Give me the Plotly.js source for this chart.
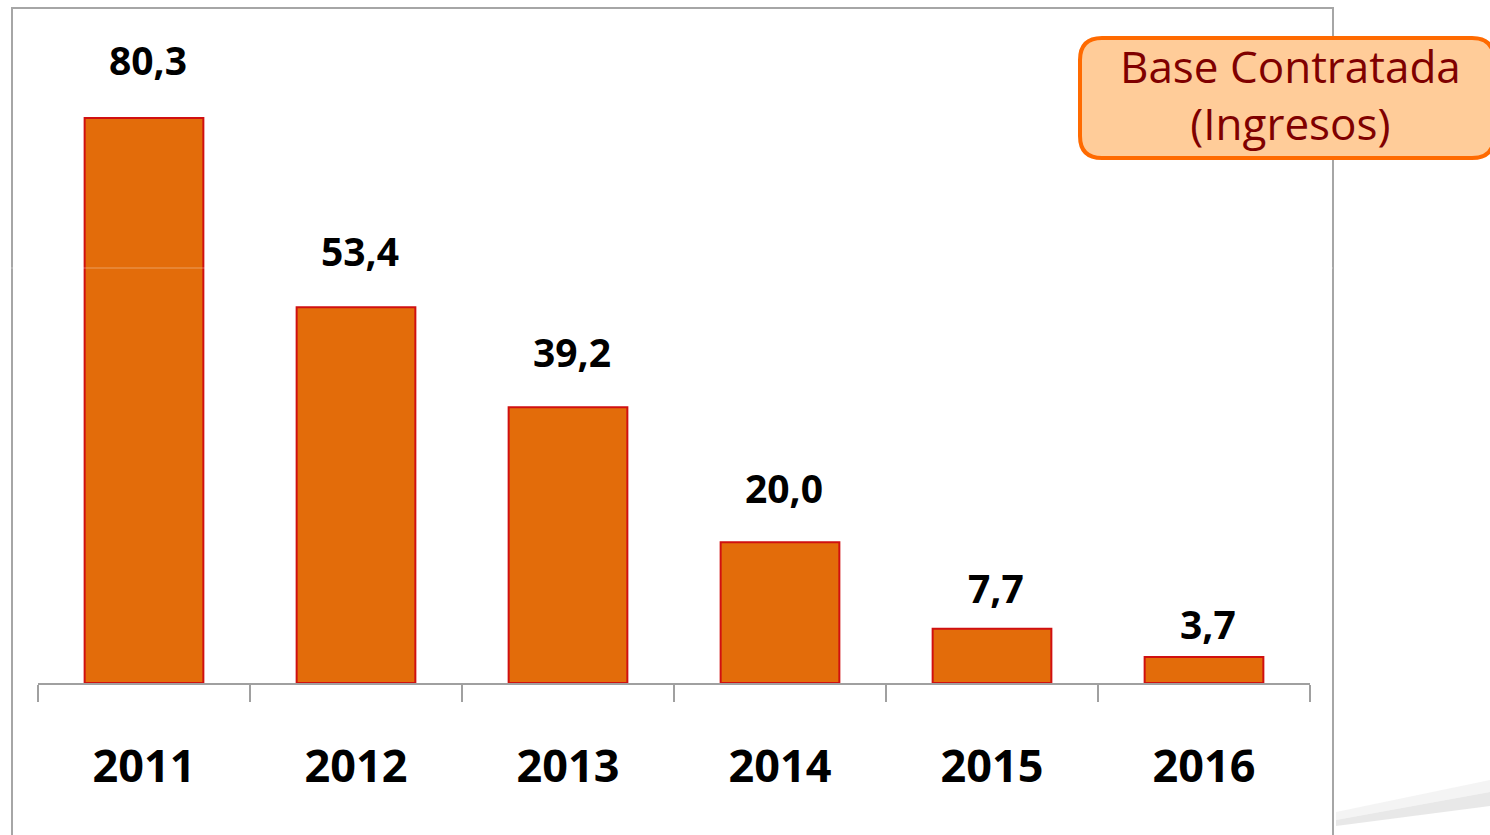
<!DOCTYPE html>
<html>
<head>
<meta charset="utf-8">
<script src="https://cdn.plot.ly/plotly-3.0.1.min.js"></script>
<style>html,body{margin:0;padding:0;background:#fff;}#chart{width:1490px;height:835px;}</style>
</head>
<body>
<div id="chart"></div>
<script>
const years = ['2011', '2012', '2013', '2014', '2015', '2016'];
const values = [80.3, 53.4, 39.2, 20.0, 7.7, 3.7];
const boxTitleLines = ['Base Contratada', '(Ingresos)'];

// label offsets above bars (style, pixels)
const labelGaps = [30, 28, 27, 26, 13, 5];

const W = 1490, H = 835;
const mL = 38, mR = 180, mT = 8, mB = 152;
const pw = W - mL - mR, ph = H - mT - mB;
const px = x => (x - mL) / pw;
const py = y => (H - mB - y) / ph;

function roundRect(x0, y0, x1, y1, r) {
  const X0 = px(x0), X1 = px(x1), Y0 = py(y0), Y1 = py(y1);
  const rx = r / pw, ry = r / ph;
  return `M${X0 + rx},${Y0} L${X1 - rx},${Y0} Q${X1},${Y0} ${X1},${Y0 - ry} ` +
         `L${X1},${Y1 + ry} Q${X1},${Y1} ${X1 - rx},${Y1} L${X0 + rx},${Y1} ` +
         `Q${X0},${Y1} ${X0},${Y1 + ry} L${X0},${Y0 - ry} Q${X0},${Y0} ${X0 + rx},${Y0} Z`;
}

const labelFont = {family: 'Open Sans, sans-serif', size: 39, color: '#000'};

const annotations = years.map((y, i) => ({
  x: i, y: values[i], xref: 'x', yref: 'y',
  text: '<b>' + values[i].toFixed(1).replace('.', ',') + '</b>',
  showarrow: false, yanchor: 'bottom', yshift: labelGaps[i], xshift: 4,
  font: labelFont
}));

annotations.push({
  x: px(1290), y: py(94), xref: 'paper', yref: 'paper',
  text: boxTitleLines.join('<br>'), showarrow: false, xanchor: 'center', yanchor: 'middle',
  font: {family: 'Open Sans, sans-serif', size: 44, color: '#7f0000'}
});

const shapes = [
  {type: 'rect', xref: 'paper', yref: 'paper', x0: px(12), x1: px(1333), y0: py(850), y1: py(8),
   line: {color: '#a6a6a6', width: 2}, fillcolor: 'rgba(0,0,0,0)', layer: 'below'},
  {type: 'path', xref: 'paper', yref: 'paper', layer: 'below',
   path: `M${px(1336)},${py(820)} L${px(1490)},${py(792)} L${px(1490)},${py(806)} L${px(1336)},${py(826)} Z`,
   fillcolor: 'rgba(205,205,205,0.45)', line: {width: 0}},
  {type: 'path', xref: 'paper', yref: 'paper', layer: 'below',
   path: `M${px(1336)},${py(812)} L${px(1490)},${py(780)} L${px(1490)},${py(792)} L${px(1336)},${py(820)} Z`,
   fillcolor: 'rgba(230,230,230,0.45)', line: {width: 0}},
  {type: 'path', xref: 'paper', yref: 'paper', layer: 'above',
   path: roundRect(1080, 38, 1494, 158, 22),
   fillcolor: '#ffcc99', line: {color: '#ff6a00', width: 4}},
  {type: 'line', xref: 'paper', yref: 'paper', x0: px(0), x1: px(1333), y0: py(268), y1: py(268),
   line: {color: 'rgba(255,255,255,0.35)', width: 1}, layer: 'above'}
];

const trace = {
  type: 'bar', x: years, y: values, width: 0.56,
  marker: {color: '#e36c0a', line: {color: '#d01010', width: 2}},
  hoverinfo: 'skip'
};

const layout = {
  width: W, height: H,
  margin: {l: mL, r: mR, t: mT, b: mB, pad: 0},
  paper_bgcolor: '#fff', plot_bgcolor: 'rgba(0,0,0,0)',
  showlegend: false,
  xaxis: {
    type: 'category', range: [-0.5, 5.5], fixedrange: true,
    showline: true, linecolor: '#a0a0a0', linewidth: 2,
    ticks: 'outside', tickson: 'boundaries', ticklen: 17, tickwidth: 2, tickcolor: '#a0a0a0',
    showgrid: false, zeroline: false,
    tickfont: {family: 'Open Sans, sans-serif', size: 45, color: '#000', weight: 'bold'},
    ticklabelstandoff: 43
  },
  yaxis: {range: [0, ph / 7.036], visible: false, fixedrange: true, showgrid: false, zeroline: false},
  annotations: annotations,
  shapes: shapes
};

Plotly.newPlot('chart', [trace], layout, {displayModeBar: false, staticPlot: true});
</script>
</body>
</html>
